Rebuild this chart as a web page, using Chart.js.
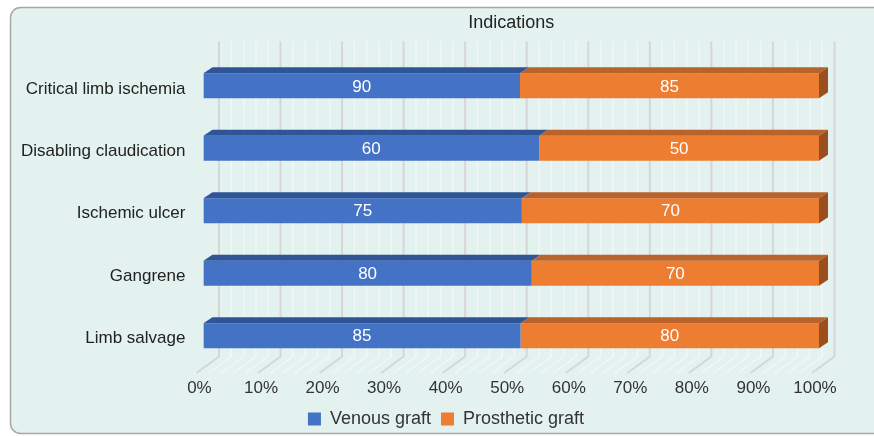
<!DOCTYPE html>
<html><head><meta charset="utf-8">
<script src="https://cdn.jsdelivr.net/npm/chart.js@4.4.0/dist/chart.umd.min.js"></script>
<style>html,body{margin:0;padding:0;background:#fff;overflow:hidden}</style>
</head><body>
<canvas id="c" width="874" height="436"></canvas>
<script>
const chartTitle = "Indications";
const categories = ["Critical limb ischemia", "Disabling claudication", "Ischemic ulcer", "Gangrene", "Limb salvage"];
const seriesNames = ["Venous graft", "Prosthetic graft"];
const venousGraft = [90, 60, 75, 80, 85];
const prostheticGraft = [85, 50, 70, 70, 80];
const tickValues = [0, 10, 20, 30, 40, 50, 60, 70, 80, 90, 100];

const rawSeries = [venousGraft, prostheticGraft];
const totals = venousGraft.map((v, i) => v + prostheticGraft[i]);
const pctSeries = rawSeries.map(s => s.map((v, i) => v / totals[i] * 100));

const FRONT = ["#4472c4", "#ed7d31"];
const TOP = ["#2f5597", "#b9622b"];
const SIDE = ["#22427a", "#9b4f1f"];
const DEPTH_X = 9, DEPTH_Y = 6;
const LEGEND_SHIFT = 35;

Chart.defaults.font.family = "'Liberation Sans', Arial, sans-serif";

const bgPlugin = {
  id: 'bg',
  afterLayout(chart) {
    if (chart.legend) { chart.legend.left += LEGEND_SHIFT; chart.legend.right += LEGEND_SHIFT; }
  },
  beforeDraw(chart) {
    const ctx = chart.ctx;
    ctx.save();
    ctx.fillStyle = '#ffffff';
    ctx.fillRect(0, 0, chart.width, chart.height);
    ctx.beginPath();
    ctx.roundRect(10.5, 7.5, chart.width + 20, chart.height - 10, 10);
    ctx.fillStyle = '#e3f2ef';
    ctx.fill();
    ctx.lineWidth = 1.5;
    ctx.strokeStyle = '#a8a8a8';
    ctx.stroke();
    ctx.restore();
  }
};

const wallPlugin = {
  id: 'wall',
  beforeDatasetsDraw(chart) {
    const ctx = chart.ctx, xs = chart.scales.x, ca = chart.chartArea;
    const wallTop = ca.top - 13, wallBottom = ca.bottom - 10.5, floorFront = ca.bottom + 6;
    ctx.save();
    for (let v = 0; v <= 100; v += 2) {
      const major = v % 10 === 0;
      const px = xs.getPixelForValue(v);
      ctx.strokeStyle = major ? '#d6d6d6' : '#f1f7f5';
      ctx.lineWidth = major ? 2 : 1.5;
      ctx.beginPath();
      ctx.moveTo(px + 15.5, wallTop);
      ctx.lineTo(px + 15.5, wallBottom);
      ctx.lineTo(px - 7, floorFront);
      ctx.stroke();
    }
    ctx.restore();
  }
};

const bars3dPlugin = {
  id: 'bars3d',
  afterDatasetsDraw(chart) {
    const ctx = chart.ctx;
    ctx.save();
    const nSets = chart.data.datasets.length;
    chart.data.datasets.forEach((ds, di) => {
      const meta = chart.getDatasetMeta(di);
      meta.data.forEach((el, i) => {
        const p = el.getProps(['x', 'y', 'base', 'height'], true);
        const l = Math.min(p.base, p.x), r = Math.max(p.base, p.x);
        const t = p.y - p.height / 2, b = p.y + p.height / 2;
        ctx.fillStyle = TOP[di];
        ctx.beginPath();
        ctx.moveTo(l, t); ctx.lineTo(l + DEPTH_X, t - DEPTH_Y);
        ctx.lineTo(r + DEPTH_X, t - DEPTH_Y); ctx.lineTo(r, t);
        ctx.closePath(); ctx.fill();
        if (di === nSets - 1) {
          ctx.fillStyle = SIDE[di];
          ctx.beginPath();
          ctx.moveTo(r, t); ctx.lineTo(r + DEPTH_X, t - DEPTH_Y);
          ctx.lineTo(r + DEPTH_X, b - DEPTH_Y); ctx.lineTo(r, b);
          ctx.closePath(); ctx.fill();
        }
        ctx.fillStyle = '#ffffff';
        ctx.font = "17px 'Liberation Sans', Arial, sans-serif";
        ctx.textAlign = 'center';
        ctx.textBaseline = 'middle';
        ctx.fillText(String(rawSeries[di][i]), (l + r) / 2, p.y + 1);
      });
    });
    ctx.restore();
  }
};

new Chart(document.getElementById('c'), {
  type: 'bar',
  data: {
    labels: categories,
    datasets: seriesNames.map((name, di) => ({
      label: name,
      data: pctSeries[di],
      backgroundColor: FRONT[di],
      borderWidth: 0,
      categoryPercentage: 0.8,
      barPercentage: 0.5
    }))
  },
  options: {
    indexAxis: 'y',
    responsive: false,
    animation: false,
    devicePixelRatio: 1,
    layout: { padding: { left: 3, right: 55, top: 0, bottom: -2 } },
    scales: {
      x: {
        stacked: true, min: 0, max: 100,
        afterBuildTicks(scale) { scale.ticks = tickValues.map(v => ({ value: v })); },
        afterFit(scale) { scale.height = 33; },
        ticks: { callback: v => v + '%', font: { size: 17 }, color: '#333333', padding: 11, labelOffset: -4, maxRotation: 0, autoSkip: false },
        grid: { display: false, drawTicks: false },
        border: { display: false }
      },
      y: {
        stacked: true,
        ticks: { font: { size: 17 }, color: '#222222', padding: 18, labelOffset: 3 },
        grid: { display: false, drawTicks: false },
        border: { display: false }
      }
    },
    plugins: {
      title: { display: true, text: chartTitle, fullSize: false, color: '#222222', font: { size: 18, weight: 'normal' }, padding: { top: 12, bottom: 21 } },
      legend: {
        position: 'bottom',
        labels: { boxWidth: 13, boxHeight: 13, color: '#333333', font: { size: 18 }, padding: 10 }
      },
      tooltip: { enabled: false }
    }
  },
  plugins: [bgPlugin, wallPlugin, bars3dPlugin]
});
</script>
</body></html>
